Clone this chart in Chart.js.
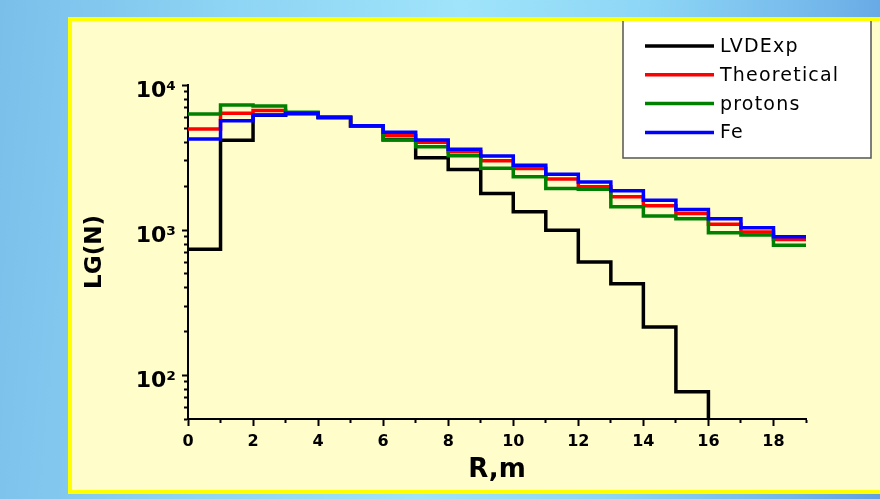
<!DOCTYPE html>
<html>
<head>
<meta charset="utf-8">
<script src="https://cdn.jsdelivr.net/npm/chart.js@4/dist/chart.umd.min.js"></script>
<style>
html, body { margin: 0; padding: 0; width: 880px; height: 499px; overflow: hidden; }
body { background: linear-gradient(95deg, #79bfea 0%, #8ed4f4 25%, #9fe4fa 50%, #8ed6f6 70%, #72b6ea 90%, #609fe2 100%); }
#panel { position: absolute; left: 68px; top: 17px; width: 900px; height: 469px; background: #FFFDC9; border: 4px solid #FFFF00; }
#c { position: absolute; left: 0; top: 0; }
</style>
</head>
<body>
<div id="panel"></div>
<canvas id="c" width="880" height="499"></canvas>
<script>
// ---- data ----
const binEdges = [0, 1, 2, 3, 4, 5, 6, 7, 8, 9, 10, 11, 12, 13, 14, 15, 16, 17, 18, 19];
const seriesNames = ['LVDExp', 'Theoretical', 'protons', 'Fe'];
const lvdExp      = [740, 4160, 6200, 6350, 5950, 5200, 4200, 3150, 2620, 1790, 1340, 1000, 604, 428, 215, 77, 10];
const theoretical = [4975, 6380, 6660, 6450, 5990, 5240, 4470, 4030, 3470, 3010, 2660, 2250, 1990, 1700, 1470, 1300, 1100, 970, 863];
const protons     = [6310, 7280, 7170, 6490, 6000, 5240, 4180, 3750, 3260, 2670, 2330, 1940, 1910, 1450, 1250, 1200, 960, 925, 788];
const fe          = [4250, 5670, 6210, 6380, 5990, 5240, 4720, 4180, 3610, 3240, 2800, 2430, 2150, 1870, 1610, 1390, 1200, 1040, 900];
const xTickValues = [0, 1, 2, 3, 4, 5, 6, 7, 8, 9, 10, 11, 12, 13, 14, 15, 16, 17, 18, 19];
const xTickLabels = ['0', '2', '4', '6', '8', '10', '12', '14', '16', '18'];
const yMajorValues = [100, 1000, 10000];
const yMajorLabels = ['10\u00B2', '10\u00B3', '10\u2074'];
const yMinorValues = [50, 60, 70, 80, 90, 200, 300, 400, 500, 600, 700, 800, 900, 2000, 3000, 4000, 5000, 6000, 7000, 8000, 9000];

// ---- styles ----
const seriesColors = ['#000000', '#ff0000', '#008000', '#0000ff'];
const drawOrder = [3, 2, 1, 0];

function toSteps(vals) {
  const pts = vals.map((v, i) => ({ x: binEdges[i], y: v }));
  if (vals.length === binEdges.length - 1) {
    pts.push({ x: binEdges[vals.length], y: vals[vals.length - 1] });
  }
  return pts;
}
const seriesValues = [lvdExp, theoretical, protons, fe];

const boxLegend = {
  id: 'boxLegend',
  afterDraw(chart) {
    const ctx = chart.ctx;
    ctx.save();
    const L = 623, R = 871, T = 21, B = 158;
    ctx.fillStyle = '#ffffff';
    ctx.fillRect(L, T, R - L, B - T);
    ctx.strokeStyle = '#555555';
    ctx.lineWidth = 1.5;
    ctx.beginPath();
    ctx.moveTo(L, T); ctx.lineTo(L, B); ctx.lineTo(R, B); ctx.lineTo(R, T);
    ctx.stroke();
    chart.data.datasets.forEach((ds, i) => {
      const y = 46 + i * 28.8;
      ctx.strokeStyle = ds.borderColor;
      ctx.lineWidth = 3.5;
      ctx.beginPath(); ctx.moveTo(645, y); ctx.lineTo(714, y); ctx.stroke();
      ctx.fillStyle = '#000000';
      ctx.font = '19px "DejaVu Sans"';
      ctx.textBaseline = 'middle';
      try { ctx.letterSpacing = '1.2px'; } catch (e) {}
      ctx.fillText(ds.label, 720, y + 1);
    });
    ctx.restore();
  }
};

const isYMajor = (c) => c.tick && yMajorValues.includes(c.tick.value);
const isXMajor = (c) => c.tick && xTickLabels.includes(String(c.tick.value));

new Chart(document.getElementById('c'), {
  type: 'line',
  data: {
    datasets: seriesNames.map((name, i) => ({
      label: name,
      data: toSteps(seriesValues[i]),
      borderColor: seriesColors[i],
      backgroundColor: seriesColors[i],
      order: drawOrder[i]
    }))
  },
  options: {
    responsive: false,
    animation: false,
    elements: {
      line: { borderWidth: 3.5, stepped: true, tension: 0, fill: false, borderCapStyle: 'square' },
      point: { radius: 0, hoverRadius: 0 }
    },
    layout: { padding: { left: 80, right: 74, top: 85, bottom: 0 } },
    plugins: { legend: { display: false }, tooltip: { enabled: false } },
    scales: {
      x: {
        type: 'linear', min: 0, max: 19, position: 'bottom',
        afterBuildTicks(s) { s.ticks = xTickValues.map(v => ({ value: v })); },
        afterFit(s) { s.height = 80; },
        ticks: {
          autoSkip: false, maxRotation: 0, padding: 6, color: '#000',
          font: { family: 'DejaVu Sans', weight: 'bold', size: 16 },
          callback: (v) => { const i = xTickLabels.indexOf(String(v)); return i >= 0 ? xTickLabels[i] : ''; }
        },
        grid: {
          drawOnChartArea: false, drawTicks: true, tickLength: 7, tickColor: '#000', tickWidth: 2,
          tickBorderDash: (c) => isXMajor(c) ? [] : [3, 40],
          tickBorderDashOffset: 0
        },
        border: { display: true, color: '#000', width: 2 },
        title: {
          display: true, text: 'R,m', color: '#000',
          font: { family: 'DejaVu Sans', weight: 'bold', size: 26 },
          padding: { top: 0, bottom: 13 }
        }
      },
      y: {
        type: 'logarithmic', min: 50, max: 10000, position: 'left',
        afterBuildTicks(s) {
          s.ticks = [...yMinorValues, ...yMajorValues].sort((a, b) => a - b)
            .map(v => ({ value: v, major: yMajorValues.includes(v) }));
        },
        afterFit(s) { s.width = 108; },
        ticks: {
          autoSkip: false, padding: 6, labelOffset: 6, color: '#000',
          font: { family: 'DejaVu Sans', weight: 'bold', size: 22 },
          callback: (v) => { const i = yMajorValues.indexOf(v); return i >= 0 ? yMajorLabels[i] : ''; }
        },
        grid: {
          drawOnChartArea: false, drawTicks: true, tickLength: 6, tickColor: '#000', tickWidth: 2,
          tickBorderDash: (c) => isYMajor(c) ? [] : [3, 40],
          tickBorderDashOffset: (c) => isYMajor(c) ? 0 : 41
        },
        border: { display: true, color: '#000', width: 2 },
        title: {
          display: true, text: 'LG(N)', color: '#000',
          font: { family: 'DejaVu Sans', weight: 'bold', size: 23 },
          padding: { top: 1, bottom: 0 }
        }
      }
    }
  },
  plugins: [boxLegend]
});
</script>
</body>
</html>
